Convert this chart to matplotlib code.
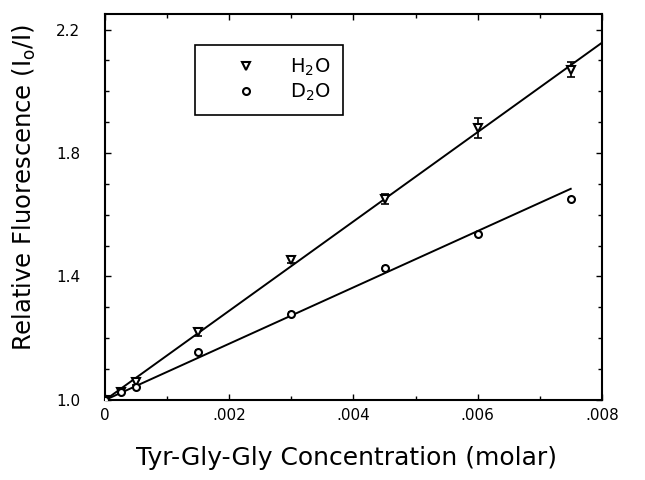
import numpy as np
import matplotlib.pyplot as plt
from matplotlib.ticker import MultipleLocator, FixedLocator, FuncFormatter

plt.rcParams['font.family'] = ['DejaVu Sans']

# concentration (molar)
conc = [0.0, 0.00025, 0.0005, 0.0015, 0.003, 0.0045, 0.006, 0.0075]

# H2O data
h2o_y = [1.0, 1.026, 1.058, 1.22, 1.454, 1.651, 1.88, 2.07]
h2o_err = [0.0, 0.006, 0.008, 0.013, 0.01, 0.016, 0.032, 0.024]

# D2O data
d2o_y = [1.0, 1.026, 1.042, 1.155, 1.28, 1.427, 1.537, 1.65]
d2o_err = [0.0, 0.005, 0.006, 0.006, 0.006, 0.008, 0.006, 0.006]

# fitted lines (intercept, slope, x end)
h2o_fit = (1.0, 144.6, 0.008)
d2o_fit = (1.0, 91.2, 0.0075)

y_ticks = [1.0, 1.4, 1.8, 2.2]
x_ticks = [0.0, 0.002, 0.004, 0.006, 0.008]
x_labels = ['0', '.002', '.004', '.006', '.008']

fig = plt.figure(figsize=(6.45, 4.8), dpi=100)
ax = fig.add_axes([0.163, 0.1667, 0.77, 0.804])

for fit in (h2o_fit, d2o_fit):
    xs = np.array([0.0, fit[2]])
    ax.plot(xs, fit[0] + fit[1] * xs, color='black', lw=1.4, zorder=2)

ax.errorbar(conc, h2o_y, yerr=h2o_err, fmt='none', ecolor='black',
            elinewidth=1.2, capsize=3, capthick=1.2, zorder=3)
ax.errorbar(conc, d2o_y, yerr=d2o_err, fmt='none', ecolor='black',
            elinewidth=1.2, capsize=2, capthick=1.2, zorder=3)
ax.plot(conc, h2o_y, 'v', mfc='white', mec='black', ms=5.5, mew=1.5,
        label='H$_2$O', zorder=4)
ax.plot(conc, d2o_y, 'o', mfc='white', mec='black', ms=5, mew=1.5,
        label='D$_2$O', zorder=4)

ax.set_xlim(0, 0.008)
ax.set_ylim(1.0, 2.25)
ax.xaxis.set_major_locator(FixedLocator(x_ticks))
ax.set_xticklabels(x_labels)
ax.xaxis.set_minor_locator(MultipleLocator(0.001))
ax.yaxis.set_major_locator(FixedLocator(y_ticks))
ax.yaxis.set_minor_locator(MultipleLocator(0.1))
ax.yaxis.set_major_formatter(FuncFormatter(lambda v, p: '%.1f' % v))
ax.tick_params(which='both', direction='in', top=True, right=True,
               width=1.0, labelsize=11)
ax.tick_params(which='major', length=4)
ax.tick_params(which='minor', length=3)
ax.tick_params(axis='y', pad=18)
ax.tick_params(axis='x', pad=6)
for s in ax.spines.values():
    s.set_linewidth(1.5)

ax.set_xlabel('Tyr-Gly-Gly Concentration (molar)', fontsize=18, labelpad=16)
ax.set_ylabel('Relative Fluorescence (I$_\\mathregular{o}$/I)', fontsize=17.5,
              labelpad=13)
ax.xaxis.label.set_x(0.485)
ax.yaxis.label.set_y(0.552)

leg = ax.legend(loc='upper left', bbox_to_anchor=(0.181, 0.92), fontsize=14,
                frameon=True, fancybox=False, edgecolor='black',
                framealpha=1, handletextpad=0.3, borderpad=0.6,
                labelspacing=0.2, handlelength=4.0, borderaxespad=0)
leg.get_frame().set_linewidth(1.2)

fig.savefig('out.png', dpi=100)
